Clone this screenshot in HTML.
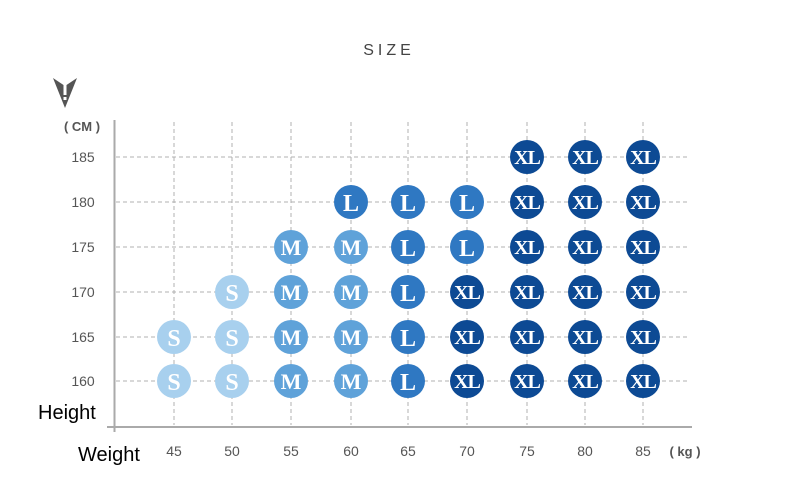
<!DOCTYPE html>
<html><head><meta charset="utf-8"><style>
html,body{margin:0;padding:0;background:#fff;}
svg{display:block;}
</style></head><body>
<svg width="800" height="487" viewBox="0 0 800 487" xmlns="http://www.w3.org/2000/svg">
<rect width="800" height="487" fill="#fff"/>
<text x="389" y="55" text-anchor="middle" font-family="Liberation Sans, sans-serif" font-size="16" letter-spacing="4" fill="#444">SIZE</text>
<polygon points="53,78 65,86 77,78 65,108" fill="#555"/>
<rect x="63.5" y="85" width="3" height="10" fill="#fff"/>
<rect x="63.5" y="97" width="3" height="3" fill="#fff"/>
<text x="82" y="131" text-anchor="middle" font-family="Liberation Sans, sans-serif" font-size="13" font-weight="bold" fill="#555">( CM )</text>
<g stroke="#b0b0b0" stroke-dasharray="4,3" stroke-width="1">
<line x1="116" y1="157" x2="690" y2="157"/><line x1="116" y1="202" x2="690" y2="202"/><line x1="116" y1="247" x2="690" y2="247"/><line x1="116" y1="292" x2="690" y2="292"/><line x1="116" y1="337" x2="690" y2="337"/><line x1="116" y1="381" x2="690" y2="381"/>
<line x1="174" y1="122" x2="174" y2="425"/><line x1="232" y1="122" x2="232" y2="425"/><line x1="291" y1="122" x2="291" y2="425"/><line x1="351" y1="122" x2="351" y2="425"/><line x1="408" y1="122" x2="408" y2="425"/><line x1="467" y1="122" x2="467" y2="425"/><line x1="527" y1="122" x2="527" y2="425"/><line x1="585" y1="122" x2="585" y2="425"/><line x1="643" y1="122" x2="643" y2="425"/>
</g>
<line x1="114.5" y1="120" x2="114.5" y2="432" stroke="#aaa" stroke-width="2"/>
<line x1="107" y1="427" x2="692" y2="427" stroke="#aaa" stroke-width="2"/>
<g font-family="Liberation Sans, sans-serif" font-size="14" fill="#555" text-anchor="middle">
<text x="83" y="162">185</text><text x="83" y="207">180</text><text x="83" y="252">175</text><text x="83" y="297">170</text><text x="83" y="342">165</text><text x="83" y="386">160</text>
<text x="174" y="456">45</text><text x="232" y="456">50</text><text x="291" y="456">55</text><text x="351" y="456">60</text><text x="408" y="456">65</text><text x="467" y="456">70</text><text x="527" y="456">75</text><text x="585" y="456">80</text><text x="643" y="456">85</text>
<text x="685" y="456" font-weight="bold" font-size="13">( kg )</text>
</g>
<text x="38" y="419" font-family="Liberation Sans, sans-serif" font-size="20" fill="#000">Height</text>
<text x="78" y="461" font-family="Liberation Sans, sans-serif" font-size="20" fill="#000">Weight</text>
<g font-family="Liberation Serif, serif" font-weight="bold" text-anchor="middle" fill="#fff">
<g font-size="24">
<circle cx="174" cy="337" r="17" fill="#a8d0ee"/><text x="174" y="346">S</text>
<circle cx="174" cy="381" r="17" fill="#a8d0ee"/><text x="174" y="390">S</text>
<circle cx="232" cy="292" r="17" fill="#a8d0ee"/><text x="232" y="301">S</text>
<circle cx="232" cy="337" r="17" fill="#a8d0ee"/><text x="232" y="346">S</text>
<circle cx="232" cy="381" r="17" fill="#a8d0ee"/><text x="232" y="390">S</text>
</g>
<g font-size="22">
<circle cx="291" cy="247" r="17" fill="#5fa2d9"/><text x="291" y="255">M</text>
<circle cx="291" cy="292" r="17" fill="#5fa2d9"/><text x="291" y="300">M</text>
<circle cx="291" cy="337" r="17" fill="#5fa2d9"/><text x="291" y="345">M</text>
<circle cx="291" cy="381" r="17" fill="#5fa2d9"/><text x="291" y="389">M</text>
<circle cx="351" cy="247" r="17" fill="#5fa2d9"/><text x="351" y="255">M</text>
<circle cx="351" cy="292" r="17" fill="#5fa2d9"/><text x="351" y="300">M</text>
<circle cx="351" cy="337" r="17" fill="#5fa2d9"/><text x="351" y="345">M</text>
<circle cx="351" cy="381" r="17" fill="#5fa2d9"/><text x="351" y="389">M</text>
</g>
<g font-size="24">
<circle cx="351" cy="202" r="17" fill="#2f78c2"/><text x="351" y="211">L</text>
<circle cx="408" cy="202" r="17" fill="#2f78c2"/><text x="408" y="211">L</text>
<circle cx="467" cy="202" r="17" fill="#2f78c2"/><text x="467" y="211">L</text>
<circle cx="408" cy="247" r="17" fill="#2f78c2"/><text x="408" y="256">L</text>
<circle cx="467" cy="247" r="17" fill="#2f78c2"/><text x="467" y="256">L</text>
<circle cx="408" cy="292" r="17" fill="#2f78c2"/><text x="408" y="301">L</text>
<circle cx="408" cy="337" r="17" fill="#2f78c2"/><text x="408" y="346">L</text>
<circle cx="408" cy="381" r="17" fill="#2f78c2"/><text x="408" y="390">L</text>
</g>
<g font-size="20" letter-spacing="-1">
<circle cx="527" cy="157" r="17" fill="#0d4a94"/><text x="527" y="164">XL</text>
<circle cx="585" cy="157" r="17" fill="#0d4a94"/><text x="585" y="164">XL</text>
<circle cx="643" cy="157" r="17" fill="#0d4a94"/><text x="643" y="164">XL</text>
<circle cx="527" cy="202" r="17" fill="#0d4a94"/><text x="527" y="209">XL</text>
<circle cx="585" cy="202" r="17" fill="#0d4a94"/><text x="585" y="209">XL</text>
<circle cx="643" cy="202" r="17" fill="#0d4a94"/><text x="643" y="209">XL</text>
<circle cx="527" cy="247" r="17" fill="#0d4a94"/><text x="527" y="254">XL</text>
<circle cx="585" cy="247" r="17" fill="#0d4a94"/><text x="585" y="254">XL</text>
<circle cx="643" cy="247" r="17" fill="#0d4a94"/><text x="643" y="254">XL</text>
<circle cx="467" cy="292" r="17" fill="#0d4a94"/><text x="467" y="299">XL</text>
<circle cx="527" cy="292" r="17" fill="#0d4a94"/><text x="527" y="299">XL</text>
<circle cx="585" cy="292" r="17" fill="#0d4a94"/><text x="585" y="299">XL</text>
<circle cx="643" cy="292" r="17" fill="#0d4a94"/><text x="643" y="299">XL</text>
<circle cx="467" cy="337" r="17" fill="#0d4a94"/><text x="467" y="344">XL</text>
<circle cx="527" cy="337" r="17" fill="#0d4a94"/><text x="527" y="344">XL</text>
<circle cx="585" cy="337" r="17" fill="#0d4a94"/><text x="585" y="344">XL</text>
<circle cx="643" cy="337" r="17" fill="#0d4a94"/><text x="643" y="344">XL</text>
<circle cx="467" cy="381" r="17" fill="#0d4a94"/><text x="467" y="388">XL</text>
<circle cx="527" cy="381" r="17" fill="#0d4a94"/><text x="527" y="388">XL</text>
<circle cx="585" cy="381" r="17" fill="#0d4a94"/><text x="585" y="388">XL</text>
<circle cx="643" cy="381" r="17" fill="#0d4a94"/><text x="643" y="388">XL</text>
</g>
</g>
</svg>
</body></html>
